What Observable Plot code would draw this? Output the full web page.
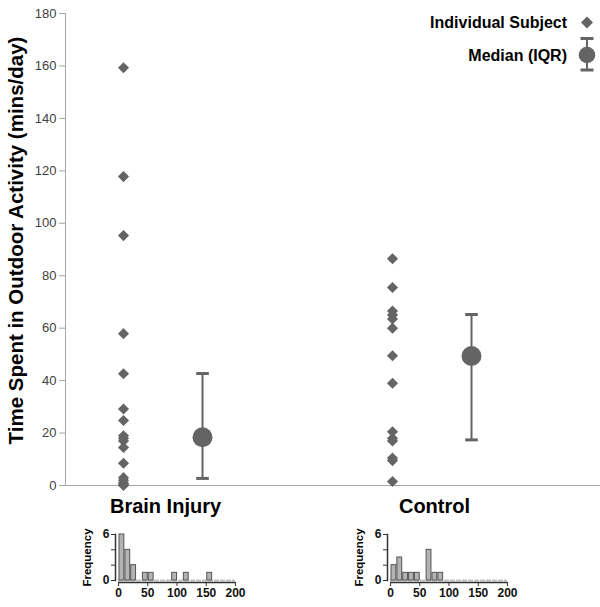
<!DOCTYPE html>
<html>
<head>
<meta charset="utf-8">
<script src="https://cdn.jsdelivr.net/npm/d3@7"></script>
<script src="https://cdn.jsdelivr.net/npm/@observablehq/plot@0.6"></script>
<style>
  html, body { margin: 0; padding: 0; background: #fff; }
  #wrap { position: relative; width: 600px; height: 607px; background: #fff; font-family: "Liberation Sans", Arial, sans-serif; }
  #wrap > * { position: absolute; }
</style>
</head>
<body>
<div id="wrap"></div>
<script>
// ---- data ----
const groups = ["Brain Injury", "Control"];
const brainInjury = [0, 0.5, 1, 2, 3, 8.5, 14.5, 17, 18, 19, 24.8, 29.2, 42.6, 57.9, 95.3, 117.8, 159.3];
const control = [1.5, 9.5, 10.5, 17, 18, 20.5, 39, 49.5, 60, 63.5, 65, 66.5, 75.5, 86.5];
const medians = [18.4, 49.4];
const q1 = [2.7, 17.4];
const q3 = [42.7, 65.2];
const yTicks = [0, 20, 40, 60, 80, 100, 120, 140, 160, 180];
const histTicks = [0, 50, 100, 150, 200];
const freqTicks = [0, 2, 4, 6];
const yLabel = "Time Spent in Outdoor Activity (mins/day)";
const legendLabels = ["Individual Subject", "Median (IQR)"];

const subjects = [
  ...brainInjury.map(v => ({group: groups[0], value: v})),
  ...control.map(v => ({group: groups[1], value: v}))
];
const summary = groups.map((g, i) => ({group: g, median: medians[i], q1: q1[i], q3: q3[i]}));

const cap = {draw(ctx, size) { const w = Math.sqrt(size) / 1.4; ctx.moveTo(-w, 0); ctx.lineTo(w, 0); }};
const grey = "#646464";
const font = "'Liberation Sans', Arial, sans-serif";

const wrap = document.getElementById("wrap");

const main = Plot.plot({
  width: 600, height: 520,
  marginTop: 13, marginBottom: 35, marginLeft: 65, marginRight: 0,
  x: {type: "point", domain: groups, range: [165, 434], padding: 0},
  y: {domain: [0, 180]},
  style: {fontFamily: font, background: "transparent", overflow: "visible"},
  marks: [
    Plot.frame({anchor: "left", stroke: "#a6a6a6"}),
    Plot.ruleY([0], {stroke: "#a6a6a6"}),
    Plot.axisY({ticks: yTicks, tickSize: 6, tickPadding: 3, stroke: "#a6a6a6", fill: "#404040", fontSize: 13, label: null}),
    Plot.axisX({tickSize: 0, tickPadding: 13, fontSize: 20, fontWeight: "bold", fill: "#000", label: null}),
    Plot.text([yLabel], {frameAnchor: "left", textAnchor: "middle", rotate: -90, dx: -49, dy: -9, fontSize: 20.5, fontWeight: "bold", fill: "#000"}),
    Plot.dot(subjects, {x: "group", y: "value", symbol: "diamond2", r: 5, fill: grey, stroke: "none", dx: -42}),
    Plot.ruleX(summary, {x: "group", y1: "q1", y2: "q3", dx: 37, stroke: grey, strokeWidth: 2}),
    Plot.dot(summary, {x: "group", y: "q1", symbol: cap, r: 5, fill: "none", stroke: grey, strokeWidth: 3, dx: 37}),
    Plot.dot(summary, {x: "group", y: "q3", symbol: cap, r: 5, fill: "none", stroke: grey, strokeWidth: 3, dx: 37}),
    Plot.dot(summary, {x: "group", y: "median", r: 10, fill: grey, stroke: "none", dx: 37})
  ]
});
main.style.left = "0px"; main.style.top = "0px";
wrap.appendChild(main);

// legend
const ns = "http://www.w3.org/2000/svg";
const leg = document.createElementNS(ns, "svg");
leg.setAttribute("width", 200); leg.setAttribute("height", 85);
leg.style.left = "400px"; leg.style.top = "0px";
leg.innerHTML = `
  <g font-family="${font}" font-weight="bold" font-size="16" fill="#000" text-anchor="end">
    <text x="167" y="22.5" dy="0.35em">${legendLabels[0]}</text>
    <text x="167" y="55" dy="0.35em">${legendLabels[1]}</text>
  </g>
  <path d="M187,16.5 L193,22.5 L187,28.5 L181,22.5 Z" fill="${grey}"/>
  <line x1="187" y1="38.5" x2="187" y2="70" stroke="${grey}" stroke-width="2"/>
  <line x1="180.5" y1="38.5" x2="193.5" y2="38.5" stroke="${grey}" stroke-width="3"/>
  <line x1="180.5" y1="70" x2="193.5" y2="70" stroke="${grey}" stroke-width="3"/>
  <circle cx="187" cy="55" r="8.3" fill="${grey}"/>
`;
wrap.appendChild(leg);

function hist(values) {
  return Plot.plot({
    width: 160, height: 87,
    marginLeft: 38, marginRight: 5, marginTop: 14, marginBottom: 27,
    x: {domain: [0, 200]},
    y: {domain: [0, 6]},
    style: {fontFamily: font, background: "transparent", overflow: "visible"},
    marks: [
      Plot.ruleY([0], {stroke: "#c4c4c4", strokeWidth: 2, strokeDasharray: "5,1"}),
      Plot.rectY(values, Plot.binX({y: "count"}, {x: d => d, interval: 10, fill: "#b3b3b3", stroke: "#555", strokeWidth: 1})),
      Plot.ruleY([0], {dy: 2, stroke: "#333", strokeWidth: 1.5}),
      Plot.axisX({ticks: histTicks, tickSize: 4, tickPadding: 2, dy: 2, fontSize: 12, fontWeight: "bold", fill: "#111", stroke: "#333", label: null}),
      Plot.frame({anchor: "left", stroke: "#333", strokeWidth: 1.5, dx: -3}),
      Plot.axisY({ticks: freqTicks, tickFormat: d => d % 6 === 0 ? d : "", tickSize: 4, tickPadding: 2, dx: -3, fontSize: 12, fontWeight: "bold", fill: "#111", stroke: "#333", label: null}),
      Plot.text(["Frequency"], {frameAnchor: "left", textAnchor: "middle", rotate: -90, dx: -31, fontSize: 11.5, fontWeight: "bold", fill: "#000"})
    ]
  });
}
const h1 = hist(brainInjury); h1.style.left = "80px"; h1.style.top = "520px"; wrap.appendChild(h1);
const h2 = hist(control); h2.style.left = "352px"; h2.style.top = "520px"; wrap.appendChild(h2);
</script>
</body>
</html>
